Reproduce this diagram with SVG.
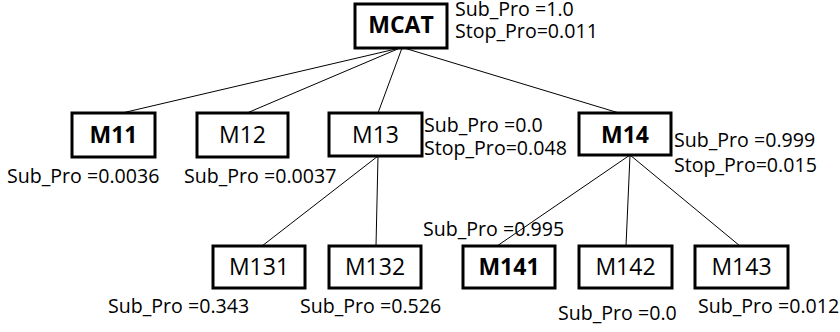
<svg xmlns="http://www.w3.org/2000/svg" width="840" height="332" viewBox="0 0 840 332">
<style>
.box{fill:#fff;stroke:#000;stroke-width:3}
.lbl{font-family:"Open Sans","Liberation Sans",sans-serif;font-size:23px;fill:#000;text-anchor:middle}
.b{font-weight:bold}
.ann{font-family:"Open Sans","Liberation Sans",sans-serif;font-size:19.6px;fill:#000}
.conn line{stroke:#000;stroke-width:1}
</style>
<rect width="840" height="332" fill="#fff"/>
<g id="connectors" class="conn">
<line x1="400" y1="48" x2="122" y2="113"/>
<line x1="400" y1="48" x2="247" y2="113"/>
<line x1="402" y1="48" x2="378" y2="113"/>
<line x1="404" y1="48" x2="619" y2="113"/>
<line x1="378" y1="156" x2="262" y2="246"/>
<line x1="378" y1="156" x2="376" y2="246"/>
<line x1="630" y1="155" x2="497" y2="246"/>
<line x1="630" y1="155" x2="626" y2="246"/>
<line x1="630" y1="155" x2="740" y2="246"/>
</g>
<g id="MCAT"><rect class="box" x="355" y="4" width="92" height="44"/><text class="lbl b" x="401" y="33">MCAT</text>
<text class="ann" x="455" y="16">Sub_Pro =1.0</text><text class="ann" x="455" y="38">Stop_Pro=0.011</text></g>
<g id="M11"><rect class="box" x="72" y="113" width="83" height="44"/><text class="lbl b" x="113.5" y="143">M11</text>
<text class="ann" x="7" y="183">Sub_Pro =0.0036</text></g>
<g id="M12"><rect class="box" x="197" y="113" width="91" height="44"/><text class="lbl" x="242.5" y="143">M12</text>
<text class="ann" x="184" y="183">Sub_Pro =0.0037</text></g>
<g id="M13"><rect class="box" x="329" y="113" width="93" height="43"/><text class="lbl" x="375.5" y="143">M13</text>
<text class="ann" x="424" y="132">Sub_Pro =0.0</text><text class="ann" x="424" y="155">Stop_Pro=0.048</text></g>
<g id="M14"><rect class="box" x="579" y="113" width="92" height="42"/><text class="lbl b" x="625" y="143">M14</text>
<text class="ann" x="674" y="147">Sub_Pro =0.999</text><text class="ann" x="674" y="172">Stop_Pro=0.015</text></g>
<g id="M131"><rect class="box" x="213" y="246" width="92" height="42"/><text class="lbl" x="259" y="275">M131</text>
<text class="ann" x="108" y="313">Sub_Pro =0.343</text></g>
<g id="M132"><rect class="box" x="329" y="246" width="92" height="42"/><text class="lbl" x="375" y="275">M132</text>
<text class="ann" x="300" y="313">Sub_Pro =0.526</text></g>
<g id="M141"><rect class="box" x="463" y="246" width="92" height="42"/><text class="lbl b" x="509" y="275">M141</text>
<text class="ann" x="423" y="236">Sub_Pro =0.995</text></g>
<g id="M142"><rect class="box" x="579" y="246" width="93" height="42"/><text class="lbl" x="625.5" y="275">M142</text>
<text class="ann" x="558" y="320">Sub_Pro =0.0</text></g>
<g id="M143"><rect class="box" x="695" y="246" width="93" height="42"/><text class="lbl" x="741.5" y="275">M143</text>
<text class="ann" x="698" y="313">Sub_Pro =0.012</text></g>
</svg>
